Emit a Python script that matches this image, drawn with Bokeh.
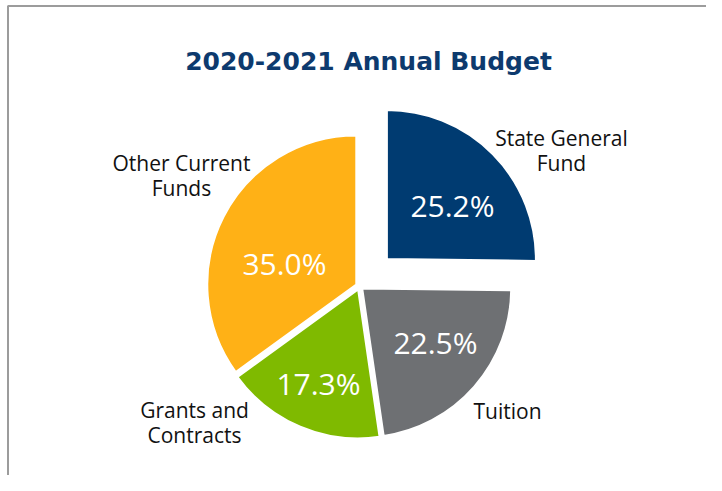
import math
from bokeh.plotting import figure
from bokeh.models import Range1d, ColumnDataSource
from bokeh.core.properties import value
from bokeh.embed import file_html
from bokeh.resources import INLINE

# ---- data ----
categories = ["State General Fund", "Tuition", "Grants and Contracts", "Other Current Funds"]
shares = [25.2, 22.5, 17.3, 35.0]
pct_labels = ["25.2%", "22.5%", "17.3%", "35.0%"]
name_labels = ["State General\nFund", "Tuition", "Grants and\nContracts", "Other Current\nFunds"]

# ---- styles / layout ----
colors = ["#003B71", "#6E7073", "#7FBA00", "#FFB116"]
explode = [38.5, 3.6, 3.6, 3.6]
W, H = 706, 475
def Y(img_y):
    return 491 - img_y

cx, cy, R = 359.0, Y(285.6), 149.0
pct_pos = [(452, 205), (435, 342), (318, 383), (284, 263)]
name_pos = [(561, 150), (507, 410), (194, 422), (181, 175)]

p = figure(width=W, height=H, x_range=Range1d(0, W), y_range=Range1d(491 - H, 491),
           output_backend="svg", toolbar_location=None, min_border=0,
           x_axis_type=None, y_axis_type=None)
p.outline_line_color = None
p.xgrid.visible = False
p.ygrid.visible = False

# frame lines
p.line([7.5, 7.5], [0, Y(5)], line_color="#9C9C9C", line_width=2)
p.line([7.5, 722], [Y(5.5), Y(5.5)], line_color="#9C9C9C", line_width=2)

total = sum(shares)
starts, ends, xs, ys = [], [], [], []
a = math.pi / 2
for s, d in zip(shares, explode):
    sweep = s / total * 2 * math.pi
    st, en = a, a - sweep
    mid = (st + en) / 2
    starts.append(st)
    ends.append(en)
    xs.append(cx + d * math.cos(mid))
    ys.append(cy + d * math.sin(mid))
    a = en

src = ColumnDataSource(dict(x=xs, y=ys, start=starts, end=ends, color=colors, cat=categories))
p.wedge(x="x", y="y", radius=R, start_angle="start", end_angle="end", direction="clock",
        fill_color="color", line_color="white", line_width=2, source=src)

p.text(x=[q[0] for q in pct_pos], y=[Y(q[1]) for q in pct_pos], text=pct_labels,
       text_color="white", text_font=value("Open Sans"), text_font_size="30px",
       text_align="center", text_baseline="middle")

p.text(x=[q[0] for q in name_pos], y=[Y(q[1]) for q in name_pos], text=name_labels,
       text_color="#111111", text_font=value("Open Sans"), text_font_size="21px",
       text_align="center", text_baseline="middle", text_line_height=0.9)

p.text(x=[368], y=[Y(61)], text=["2020-2021 Annual Budget"], text_color="#0D3A6E",
       text_font=value("DejaVu Sans"), text_font_style="bold", text_font_size="25px",
       text_align="center", text_baseline="middle")

open("out.html", "w").write(file_html(p, INLINE))
